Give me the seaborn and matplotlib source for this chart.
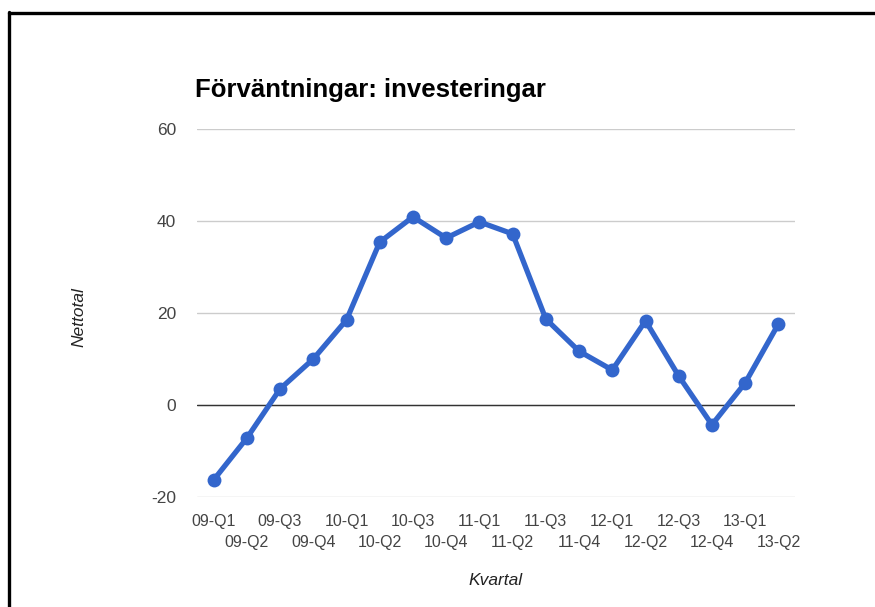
import pandas as pd
import seaborn as sns
import matplotlib.pyplot as plt
from matplotlib.lines import Line2D

# Kvartal och nettotal, avlästa från originalbilden
kvartal = ['09-Q1', '09-Q2', '09-Q3', '09-Q4', '10-Q1', '10-Q2', '10-Q3', '10-Q4',
           '11-Q1', '11-Q2', '11-Q3', '11-Q4', '12-Q1', '12-Q2', '12-Q3', '12-Q4',
           '13-Q1', '13-Q2']
nettotal = [-16.3, -7.2, 3.5, 10.0, 18.5, 35.4, 40.9, 36.3,
            39.8, 37.2, 18.7, 11.7, 7.6, 18.3, 6.3, -4.3,
            4.8, 17.6]
y_ticks = [-20, 0, 20, 40, 60]

df = pd.DataFrame({'Kvartal': kvartal, 'Nettotal': nettotal})

sns.set_style('white')
plt.rcParams['font.family'] = ['Liberation Sans', 'DejaVu Sans']

fig = plt.figure(figsize=(8.75, 6.07), dpi=100)
ax = fig.add_axes([197 / 875, 1 - 497 / 607, 598 / 875, 368 / 607])

# rutnät först, sedan nollinjen
for t in y_ticks:
    ax.axhline(t, color='#cccccc', lw=1, zorder=0)
ax.axhline(0, color='#333333', lw=1, zorder=1)

sns.lineplot(data=df, x='Kvartal', y='Nettotal', ax=ax, color='#3366cc',
             lw=3.8, marker='o', markersize=10, markeredgewidth=0, zorder=3,
             sort=False)

ax.set_xlim(-0.5, len(kvartal) - 0.5)
ax.set_ylim(-20, 60)
ax.set_yticks(y_ticks)
ax.set_yticklabels([str(t) for t in y_ticks])

# jämna kvartal på första raden, udda på andra (som minor-ticks)
jamna = list(range(0, len(kvartal), 2))
udda = list(range(1, len(kvartal), 2))
ax.set_xticks(jamna, labels=[kvartal[i] for i in jamna])
ax.set_xticks(udda, labels=[kvartal[i] for i in udda], minor=True)

ax.tick_params(axis='both', which='both', length=0, colors='#444444')
ax.tick_params(axis='x', which='major', pad=12, labelsize=11.5)
ax.tick_params(axis='x', which='minor', pad=27, labelsize=11.5)
ax.tick_params(axis='y', pad=15, labelsize=12.5)
sns.despine(ax=ax, left=True, bottom=True)

ax.set_xlabel('Kvartal', fontsize=12.5, style='italic', color='#222222')
ax.set_ylabel('Nettotal', fontsize=12.5, style='italic', color='#222222')
ax.xaxis.set_label_coords(0.5, (497 - 573) / 368)
ax.yaxis.set_label_coords((86 - 197) / 598, 0.49)

ax.set_title('Förväntningar: investeringar', loc='left', fontsize=18.5,
             fontweight='bold', color='black', pad=23, x=-0.004)

# svart ram uppe och till vänster
fig.add_artist(Line2D([8.5 / 875, 1], [1 - 12.5 / 607, 1 - 12.5 / 607],
                      color='black', lw=2.4, transform=fig.transFigure))
fig.add_artist(Line2D([8.5 / 875, 8.5 / 875], [0, 1 - 11.5 / 607],
                      color='black', lw=2.4, transform=fig.transFigure))

fig.savefig('out.png', dpi=100)
